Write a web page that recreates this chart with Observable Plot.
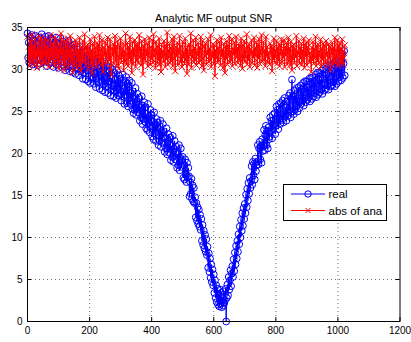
<!DOCTYPE html>
<html><head><meta charset="utf-8">
<script src="https://cdn.jsdelivr.net/npm/d3@7"></script>
<script src="https://cdn.jsdelivr.net/npm/@observablehq/plot@0.6"></script>
<style>
body{margin:0;background:#fff;}
#wrap{position:relative;width:411px;height:342px;font-family:"Liberation Sans",Arial,Helvetica,sans-serif;}
#legend{position:absolute;left:283px;top:184px;}
</style>
</head><body>
<div id="wrap"><div id="chart"></div>
<svg id="legend" width="104" height="37" font-family="Liberation Sans, Arial, sans-serif" font-size="11.5">
  <rect x="0.5" y="0.5" width="103" height="36" fill="#fff" stroke="#000"/>
  <line x1="8" x2="42" y1="10" y2="10" stroke="#0000ff"/>
  <circle cx="25" cy="10" r="3.2" fill="none" stroke="#0000ff"/>
  <text x="45.5" y="10" dy="0.35em">real</text>
  <line x1="8" x2="42" y1="26.5" y2="26.5" stroke="#ff0000"/>
  <path d="M22.5,24L27.5,29M27.5,24L22.5,29" stroke="#ff0000"/>
  <text x="45.5" y="26.5" dy="0.35em">abs of ana</text>
</svg>
</div>
<script>
const title = "Analytic MF output SNR";
const seriesNames = ["real", "abs of ana"];
const sampleStep = 2;
const xTicks = [0, 200, 400, 600, 800, 1000, 1200];
const yTicks = [0, 5, 10, 15, 20, 25, 30, 35];

const realSNR = [
34.3,31.4,33.2,30.8,33.9,32.0,31.1,34.1,32.7,30.6,
33.5,31.8,30.9,34.0,32.3,33.1,30.5,32.9,33.8,31.3,
30.7,33.6,32.1,34.2,31.0,32.8,33.4,30.9,31.7,33.9,
32.4,30.4,33.3,31.5,34.0,32.6,30.8,33.7,31.2,32.9,
33.6,31.1,30.3,33.0,32.2,31.4,33.8,30.6,32.5,31.9,
30.2,33.1,31.6,33.7,30.8,32.4,31.0,33.3,30.5,32.7,
31.9,29.9,33.0,31.2,32.6,30.4,33.4,31.5,29.8,32.3,
30.6,32.8,31.1,29.7,32.5,30.9,33.0,29.5,31.8,30.3,
32.4,30.1,31.6,29.3,32.7,30.5,29.8,32.0,30.9,28.9,
31.7,29.6,32.1,30.2,28.8,31.3,29.9,32.3,28.6,30.7,
31.5,28.4,30.6,29.2,31.8,28.9,30.2,28.3,31.1,29.5,
27.9,30.8,29.0,31.3,28.5,30.1,27.7,29.8,31.0,28.6,
30.4,27.5,29.6,28.2,30.9,27.3,29.1,30.5,28.0,29.7,
27.2,29.9,28.6,30.3,26.9,28.9,27.6,30.0,28.1,26.8,
29.6,27.4,28.8,26.6,29.9,27.9,26.9,29.3,28.3,27.1,
28.9,26.3,28.1,29.4,26.8,27.7,25.9,28.6,27.0,29.1,
26.0,28.3,25.6,27.5,28.7,25.9,27.2,26.3,28.4,25.3,
27.4,24.8,26.5,25.2,27.8,24.6,26.2,27.1,24.9,25.8,
26.6,23.9,25.4,24.3,26.8,23.5,25.7,24.1,26.1,23.8,
25.5,23.0,24.7,22.8,25.9,23.6,24.4,22.5,25.2,23.3,
24.6,22.0,23.8,21.7,24.9,22.4,23.4,21.5,24.1,22.7,
23.7,21.0,22.9,21.5,23.9,20.8,22.6,21.3,23.5,21.9,
22.6,20.2,21.8,20.6,23.0,19.9,21.4,22.3,20.1,21.0,
21.9,19.2,20.9,19.6,22.1,19.0,20.6,21.5,19.3,20.2,
20.8,18.3,19.9,18.6,21.0,18.0,19.5,20.6,18.4,19.2,
19.6,17.1,18.6,16.9,19.3,17.5,16.6,18.9,17.2,18.3,
17.3,14.9,16.6,15.2,17.0,14.6,16.2,14.3,15.9,14.1,
14.8,12.4,14.1,12.0,13.6,11.6,13.3,11.3,12.7,10.9,
12.2,9.6,11.5,9.1,10.8,8.7,10.3,8.3,9.8,7.9,
8.9,6.4,8.1,5.9,7.5,5.2,6.8,4.7,6.2,4.3,
5.6,3.4,4.9,2.8,4.3,2.3,3.9,2.0,3.3,1.8,
3.8,2.1,3.4,1.7,2.9,1.9,3.6,2.2,2.5,3.9,
0.0,2.8,4.4,3.1,5.3,3.8,4.9,6.1,4.2,5.7,
6.6,5.3,7.4,6.0,8.2,6.8,9.0,7.5,9.6,8.3,
10.4,9.2,11.3,10.0,12.1,10.8,12.9,11.4,13.5,12.2,
14.0,12.9,15.1,13.6,15.8,14.4,16.5,15.2,17.1,15.9,
16.7,18.5,16.3,19.0,17.4,18.8,16.9,19.4,17.9,18.6,
19.0,21.0,18.7,20.6,21.4,19.3,20.9,18.9,21.7,20.3,
20.9,22.8,20.4,22.2,23.3,21.0,22.7,20.6,23.1,21.7,
22.0,24.3,22.6,23.9,21.8,24.6,22.9,23.5,24.8,22.3,
23.3,25.6,23.8,25.2,22.9,25.9,24.1,23.5,26.0,24.6,
24.0,26.3,23.7,25.8,26.6,24.4,25.5,23.9,26.2,24.8,
24.5,26.9,25.1,27.2,24.3,26.5,28.8,25.0,26.8,24.7,
27.5,25.2,26.9,25.7,27.8,25.0,26.6,27.9,25.4,26.2,
28.1,25.9,27.6,26.3,28.4,25.7,27.3,28.6,26.1,27.0,
28.6,26.4,27.9,26.7,28.9,26.2,27.7,29.0,26.5,28.2,
29.1,26.8,28.5,27.2,29.4,26.7,28.3,29.6,27.0,28.7,
29.6,27.3,28.8,27.6,29.9,27.1,28.9,30.1,27.5,28.4,
30.0,27.7,29.4,28.1,30.4,27.6,29.2,30.6,28.0,29.0,
30.5,28.1,29.8,28.5,30.9,28.0,29.7,31.1,28.3,29.5,
31.0,28.6,30.4,29.1,31.5,28.7,30.2,31.9,29.0,30.7,
32.2,29.3
];

const absAnaSNR = [
33.9,31.2,32.7,30.4,33.4,31.8,30.9,34.2,32.1,31.0,
32.9,30.6,33.6,31.4,32.3,30.2,33.1,31.7,34.0,30.8,
32.5,31.3,33.8,30.5,32.0,33.3,30.9,31.9,33.7,31.1,
30.7,32.8,31.5,33.5,30.3,32.4,31.0,34.1,31.6,32.6,
31.2,33.2,30.6,32.1,33.9,30.4,32.7,31.3,33.4,30.9,
32.3,30.1,33.0,31.8,34.3,30.7,32.5,31.1,33.6,29.9,
31.7,33.3,30.5,32.9,31.2,33.7,30.3,32.2,31.5,34.0,
30.8,32.6,31.4,29.6,33.1,31.9,30.6,33.5,32.0,30.2,
33.2,31.0,32.4,30.4,33.8,31.6,29.8,32.7,31.3,33.4,
30.9,32.2,34.2,31.1,30.5,32.8,31.7,33.0,30.1,32.5,
31.4,33.6,30.7,32.3,29.5,33.1,31.8,30.6,33.9,31.2,
32.6,30.3,33.2,31.5,32.9,30.8,34.1,31.0,32.4,30.5,
33.5,31.3,29.7,32.6,31.9,33.3,30.6,32.0,31.4,33.8,
30.9,32.7,31.2,33.6,30.2,29.3,32.5,31.7,33.0,30.7,
32.3,34.0,31.0,32.8,30.5,33.4,31.6,30.1,32.9,31.3,
33.7,30.8,32.4,31.5,33.1,29.9,32.2,31.0,34.3,30.6,
31.8,33.2,30.4,32.7,31.3,33.9,30.9,32.1,29.6,33.3,
30.7,32.5,31.6,33.5,30.3,32.9,31.1,33.0,30.8,32.4,
34.1,31.4,32.6,30.5,33.4,31.9,29.4,32.8,31.2,33.6,
30.9,32.3,31.7,33.1,30.4,32.0,33.8,31.5,30.6,32.7,
31.3,33.5,30.8,34.2,31.6,32.4,30.2,33.3,31.9,30.7,
32.8,31.1,33.7,30.6,32.5,29.7,33.0,31.4,32.2,30.9,
33.4,31.8,30.3,32.9,31.2,34.4,30.6,32.3,31.5,33.1,
30.8,32.6,31.0,33.6,30.4,32.1,33.9,31.3,29.8,32.7,
31.7,33.2,30.5,32.4,31.9,34.0,30.9,32.8,31.2,30.3,
33.3,31.5,32.0,30.7,33.7,31.1,32.5,29.5,32.9,31.6,
30.6,33.0,31.8,34.3,30.2,32.3,31.4,33.5,30.9,32.6,
31.2,33.8,30.5,32.1,31.7,33.2,30.8,32.7,31.0,33.9,
32.4,30.4,33.4,31.3,29.9,32.8,31.6,33.1,30.6,32.2,
31.8,33.6,30.9,32.5,31.1,34.1,30.3,32.0,31.5,33.0,
30.7,32.9,29.2,32.3,31.4,33.5,30.8,32.6,31.0,33.3,
32.1,30.5,33.8,31.6,32.4,30.2,33.1,31.9,29.6,32.7,
31.3,33.4,30.6,32.8,31.7,34.0,30.9,32.2,31.1,33.6,
30.4,32.5,31.8,33.2,30.7,32.0,33.9,31.4,32.6,30.8,
33.1,31.2,32.7,30.5,33.7,31.6,30.1,32.9,31.3,33.4,
30.9,32.3,31.5,34.2,30.6,32.8,31.1,33.0,30.3,32.4,
31.9,33.5,30.8,32.1,31.4,33.8,30.5,32.6,31.7,33.2,
30.2,32.9,31.3,33.6,30.7,32.4,31.8,34.1,31.0,32.5,
33.3,31.1,32.2,30.4,33.9,31.6,32.7,30.9,32.0,31.4,
30.6,33.1,31.9,32.8,29.8,32.5,31.2,33.7,30.8,32.3,
31.5,33.4,30.7,32.6,31.1,33.0,30.4,32.9,31.8,33.6,
30.9,32.2,31.4,33.5,30.3,32.7,31.7,33.2,30.6,32.4,
33.8,31.0,32.5,30.5,33.3,31.6,29.9,32.8,31.2,33.0,
30.8,32.4,31.5,34.0,30.4,32.1,31.9,33.4,30.7,32.6,
31.3,33.1,30.6,32.3,31.0,33.7,30.2,32.9,31.6,33.2,
30.5,32.7,31.8,33.5,30.9,32.0,31.3,29.7,32.6,31.1,
33.3,30.7,32.4,31.5,33.9,30.4,32.8,31.0,33.0,30.8,
32.2,31.6,33.6,30.3,32.5,31.2,33.1,30.6,32.9,31.4,
30.9,33.4,31.7,32.1,30.5,33.0,31.3,32.7,29.9,32.4,
31.8,33.2,30.6,32.6,31.1,33.8,30.8,32.3,31.5,33.5,
30.4,32.8,31.2,33.1,30.7,32.5,31.0,33.6,30.6,32.2,
31.4,32.9
];

const realData = realSNR.map((v, i) => ({n: i * sampleStep, v}));
const anaData = absAnaSNR.map((v, i) => ({n: i * sampleStep, v}));

const W = 411, H = 342;
const mL = 27, mR = 11.5, mT = 27, mB = 21;
const fw = W - mL - mR, fh = H - mT - mB;
const tk = 4;

const chart = Plot.plot({
  width: W, height: H,
  marginLeft: mL, marginRight: mR, marginTop: mT, marginBottom: mB,
  x: {domain: [0, 1200]},
  y: {domain: [0, 35]},
  style: {fontFamily: "Liberation Sans, Arial, Helvetica, sans-serif", fontSize: "10px", background: "#fff", overflow: "visible"},
  marks: [
    Plot.gridX(xTicks.slice(1, -1), {stroke: "#000", strokeOpacity: 0.55, strokeDasharray: "1,3"}),
    Plot.gridY(yTicks.slice(1, -1), {stroke: "#000", strokeOpacity: 0.55, strokeDasharray: "1,3"}),
    Plot.line(realData, {x: "n", y: "v", stroke: "#0000ff", strokeWidth: 1}),
    Plot.dot(realData, {x: "n", y: "v", r: 3.4, stroke: "#0000ff", strokeWidth: 1, fill: "none"}),
    Plot.line(anaData, {x: "n", y: "v", stroke: "#ff0000", strokeWidth: 1}),
    Plot.dot(anaData, {x: "n", y: "v", r: 2.8, symbol: "times", stroke: "#ff0000", strokeWidth: 1}),
    Plot.tickX(xTicks, {x: d => d, insetTop: fh - tk, stroke: "#000"}),
    Plot.tickX(xTicks, {x: d => d, insetBottom: fh - tk, stroke: "#000"}),
    Plot.tickY(yTicks, {y: d => d, insetRight: fw - tk, stroke: "#000"}),
    Plot.tickY(yTicks, {y: d => d, insetLeft: fw - tk, stroke: "#000"}),
    Plot.axisX(xTicks, {tickSize: 0, tickPadding: 5, fontSize: 10, fill: "#000", label: null, tickFormat: d => String(d)}),
    Plot.axisY(yTicks, {tickSize: 0, tickPadding: 5, fontSize: 10, fill: "#000", label: null, tickFormat: d => String(d)}),
    Plot.frame({stroke: "#000"}),
    Plot.text([title], {text: d => d, frameAnchor: "top", dy: -13, fontSize: 11, fill: "#000"})
  ]
});
document.getElementById("chart").appendChild(chart);
</script>
</body></html>
